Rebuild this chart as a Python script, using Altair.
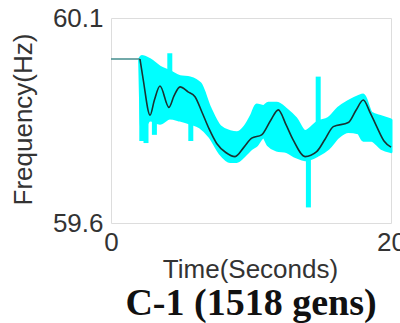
import altair as alt
import pandas as pd

# Mean frequency trace (seconds, Hz)
trace_t = [0.0, 2.07, 2.3, 2.79, 3.1, 3.5, 4.14, 4.5, 4.93, 5.5, 6.0, 6.5, 7.0, 7.55,
           8.2, 8.86, 9.5, 10.05, 10.76, 11.4, 11.95, 12.5, 13.02, 13.86, 14.69,
           15.3, 15.88, 16.95, 17.5, 18.02, 18.5, 18.98, 19.5, 20.0]
trace_f = [60.0, 60.0, 59.95, 59.863, 59.9, 59.934, 59.882, 59.91, 59.932, 59.92,
           59.908, 59.87, 59.83, 59.794, 59.772, 59.762, 59.785, 59.807, 59.815,
           59.85, 59.876, 59.84, 59.802, 59.762, 59.774, 59.805, 59.835, 59.845,
           59.875, 59.9, 59.87, 59.835, 59.80, 59.785]

# Spread of all generator frequencies (upper / lower envelope)
band_t = [2.05, 2.2, 2.79, 3.5, 4.2, 4.93, 5.64, 6.36, 7.07, 7.79, 8.5, 8.98, 9.57,
          10.05, 10.4, 10.88, 11.24, 11.83, 12.55, 13.2, 13.86, 14.8, 15.52, 16.24,
          16.95, 17.66, 18.02, 18.6, 19.33, 20.0]
band_hi = [60.0, 60.006, 59.998, 59.98, 59.969, 59.957, 59.954, 59.94, 59.88,
           59.835, 59.823, 59.82, 59.835, 59.863, 59.888, 59.884, 59.892, 59.892,
           59.876, 59.855, 59.823, 59.847, 59.855, 59.88, 59.896, 59.908, 59.912,
           59.868, 59.859, 59.851]
band_lo = [59.995, 59.827, 59.851, 59.843, 59.856, 59.851, 59.844, 59.834, 59.81,
           59.77, 59.75, 59.75, 59.766, 59.782, 59.79, 59.81, 59.79, 59.778, 59.774,
           59.762, 59.754, 59.766, 59.782, 59.81, 59.823, 59.82, 59.802, 59.802,
           59.782, 59.774]

# Short-lived excursions of individual generators
spike_t = [2.2, 2.5, 3.1, 4.2, 5.7, 14.1, 14.8]
spike_lo = [59.80, 59.795, 59.815, 59.86, 59.80, 59.638, 59.77]
spike_hi = [60.0, 59.98, 59.99, 60.014, 59.95, 59.80, 59.957]

trace = pd.DataFrame({"t": trace_t, "f": trace_f})
band = pd.DataFrame({"t": band_t, "hi": band_hi, "lo": band_lo})
spikes = pd.DataFrame({"t": spike_t, "lo": spike_lo, "hi": spike_hi})

CYAN = "#00FFFF"
LABEL_FONT = "Liberation Sans"
TEXT_GREY = "#333333"

x_scale = alt.Scale(domain=[0, 20], nice=False, zero=False)
y_scale = alt.Scale(domain=[59.6, 60.1], nice=False, zero=False)

x_axis = alt.Axis(
    values=[0, 20], format="d", ticks=False, grid=False, domain=False,
    labelFont=LABEL_FONT, labelFontSize=26, labelColor=TEXT_GREY,
    labelPadding=6, labelFlush=False, labelBound=False,
    title="Time(Seconds)", titleFont=LABEL_FONT, titleFontSize=26,
    titleFontWeight="normal", titleColor=TEXT_GREY,
    titleX=139, titleY=54, titleBaseline="alphabetic", titleAlign="center",
)
y_axis = alt.Axis(
    values=[59.6, 60.1], format=".1f", ticks=False, grid=False, domain=False,
    labelFont=LABEL_FONT, labelFontSize=26, labelColor=TEXT_GREY,
    labelPadding=8, labelFlush=False, labelBound=False,
    title="Frequency(Hz)", titleFont=LABEL_FONT, titleFontSize=26,
    titleFontWeight="normal", titleColor=TEXT_GREY,
    titleX=-88, titleY=101, titleAngle=-90, titleBaseline="middle",
    titleAlign="center",
)

envelope = alt.Chart(band).mark_area(
    color=CYAN, opacity=1, interpolate="monotone",
    stroke=CYAN, strokeWidth=3, strokeJoin="round",
).encode(
    x=alt.X("t:Q", scale=x_scale, axis=x_axis),
    y=alt.Y("hi:Q", scale=y_scale, axis=y_axis),
    y2="lo:Q",
)

excursions = alt.Chart(spikes).mark_rule(color=CYAN, strokeWidth=5).encode(
    x="t:Q", y="lo:Q", y2="hi:Q",
)

pre_event = alt.Chart(trace).transform_filter("datum.t <= 2.07").mark_line(
    color="#4f9494", strokeWidth=1.6
).encode(x="t:Q", y="f:Q")

mean_line = alt.Chart(trace).transform_filter("datum.t >= 2.07").mark_line(
    color="#1a3232", strokeWidth=1.6, interpolate="monotone"
).encode(x="t:Q", y="f:Q")

chart = alt.layer(envelope, excursions, pre_event, mean_line).properties(
    width=280,
    height=205,
    autosize=alt.AutoSizeParams(type="none"),
    padding={"left": 111, "top": 18, "right": 9, "bottom": 100},
    title=alt.TitleParams(
        "C-1 (1518 gens)", orient="bottom", anchor="middle", frame="group",
        font="Liberation Serif", fontSize=38, fontWeight="bold", color="#111111",
        offset=3,
    ),
).configure_view(
    stroke="#707070", strokeWidth=2
).configure(background="white")

chart.save("out.html", embed_options={"renderer": "svg", "actions": False})
